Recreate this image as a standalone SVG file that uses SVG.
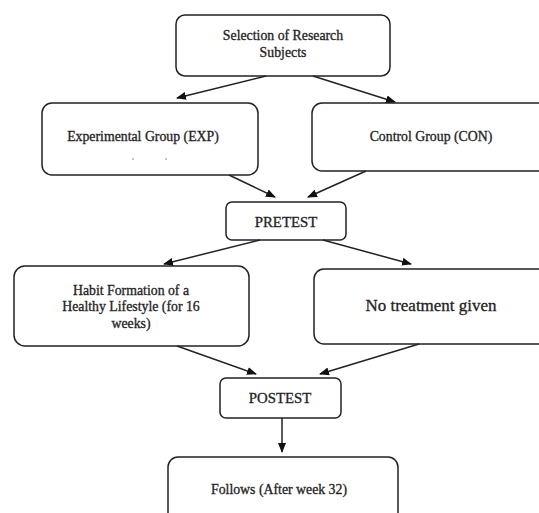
<svg xmlns="http://www.w3.org/2000/svg" width="539" height="513" viewBox="0 0 539 513">
<defs>
<marker id="ah" markerWidth="10" markerHeight="8" refX="9" refY="4" orient="auto" markerUnits="userSpaceOnUse">
<path d="M0,0 L10,4 L0,8 Z" fill="#111"/>
</marker>
<style>
.box{fill:#fff;stroke:#222;stroke-width:1.5}
.t{font-family:"Liberation Serif","Times New Roman",serif;font-size:13.8px;fill:#222;stroke:#222;stroke-width:0.3;text-anchor:middle}
.big{font-size:17px}
.mid{font-size:14.8px}
.c{fill:none;stroke:#222;stroke-width:1.5;marker-end:url(#ah)}
</style>
</defs>
<rect width="539" height="513" fill="#fff"/>
<g id="selection">
<rect class="box" x="176" y="15" width="214" height="61" rx="9"/>
<text class="t" x="283" y="40">Selection of Research</text>
<text class="t" x="283" y="57">Subjects</text>
</g>
<g id="exp">
<rect class="box" x="42" y="103" width="216" height="72" rx="10"/>
<text class="t" x="143" y="141">Experimental Group (EXP)</text>
<path d="M132,159h2M165,159h2" stroke="#888" stroke-width="1"/>
</g>
<g id="con">
<rect class="box" x="312" y="103" width="240" height="68" rx="10"/>
<text class="t" x="431" y="141">Control Group (CON)</text>
</g>
<g id="pretest">
<rect class="box" x="226" y="202" width="120" height="38" rx="6"/>
<text class="t mid" x="286" y="227">PRETEST</text>
</g>
<g id="habit">
<rect class="box" x="14" y="266" width="235" height="80" rx="11"/>
<text class="t" x="131" y="295">Habit Formation of a</text>
<text class="t" x="131" y="311">Healthy Lifestyle (for 16</text>
<text class="t" x="131" y="328">weeks)</text>
</g>
<g id="notreat">
<rect class="box" x="314" y="269" width="240" height="75" rx="10"/>
<text class="t big" x="431" y="311">No treatment given</text>
</g>
<g id="postest">
<rect class="box" x="220" y="378" width="121" height="40" rx="6"/>
<text class="t mid" x="280" y="403">POSTEST</text>
</g>
<g id="follows">
<rect class="box" x="168" y="457" width="230" height="70" rx="10"/>
<text class="t" x="279" y="494">Follows (After week 32)</text>
</g>
<g id="connectors">
<line class="c" x1="266" y1="76" x2="177" y2="98"/>
<line class="c" x1="313" y1="76" x2="395" y2="102"/>
<line class="c" x1="229" y1="175" x2="275" y2="197"/>
<line class="c" x1="366" y1="171" x2="308" y2="197"/>
<line class="c" x1="260" y1="240" x2="164" y2="264"/>
<line class="c" x1="323" y1="240" x2="411" y2="264"/>
<line class="c" x1="177" y1="346" x2="256" y2="374"/>
<line class="c" x1="419" y1="344" x2="320" y2="374"/>
<line class="c" x1="282" y1="418" x2="282" y2="452"/>
</g>
</svg>
